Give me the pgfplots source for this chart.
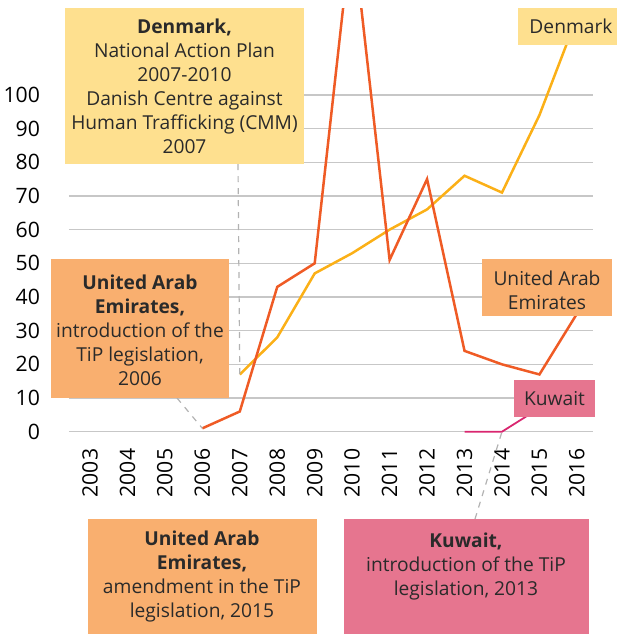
\documentclass[border=0pt]{standalone}
\usepackage{fontspec}
\setmainfont{Open Sans}
\usepackage{pgfplots}
\pgfplotsset{compat=1.18}

\definecolor{uaeline}{HTML}{EF5B25}
\definecolor{dkline}{HTML}{FBB017}
\definecolor{kwline}{HTML}{D9266F}
\definecolor{dkbox}{HTML}{FEE08F}
\definecolor{uaebox}{HTML}{F9AF6F}
\definecolor{kwbox}{HTML}{E6758F}
\definecolor{txt}{HTML}{2A2A2A}

\newcommand\bfont{\fontsize{9.6}{12}\selectfont}

\begin{document}
\begin{tikzpicture}
\path[use as bounding box] (0,0) rectangle (308.5pt,-317pt);
\begin{axis}[
  at={(34.5pt,-220.9pt)}, anchor=south west,
  scale only axis, width=262pt, height=216.9pt,
  xmin=2002.44, xmax=2016.43, ymin=-3, ymax=125.8,
  axis line style={draw=none}, major tick style={draw=none},
  ymajorgrids, grid style={draw=black!22, line width=0.75pt},
  xtick={2003,...,2016}, ytick={0,10,...,100},
  /pgf/number format/assume math mode=true,
  /pgf/number format/1000 sep={},
  xticklabel style={rotate=90, anchor=east, font=\fontsize{10.6}{12}\selectfont},
  yticklabel style={xshift=-11pt, font=\fontsize{10.6}{12}\selectfont},
]
% Denmark
\addplot[dkline, line width=1.25pt] coordinates {
  (2007,17) (2008,28) (2009,47) (2010,53) (2011,60) (2012,66)
  (2013,76) (2014,71) (2015,94) (2016,123)};
% United Arab Emirates
\addplot[uaeline, line width=1.25pt] coordinates {
  (2006,1) (2007,6) (2008,43) (2009,50) (2010,150) (2011,51)
  (2012,75) (2013,24) (2014,20) (2015,17) (2016,35)};
% Kuwait
\addplot[kwline, line width=0.9pt] coordinates {(2013,0) (2014,0) (2015,7)};

\coordinate (dk07) at (axis cs:2007,17);
\coordinate (ua06) at (axis cs:2006,1);
\coordinate (kw14) at (axis cs:2014,0);
\end{axis}

\begin{scope}[x=0.5pt, y=-0.5pt, lead/.style={draw=black!30, line width=0.6pt, dash pattern=on 3pt off 3pt}]
  \draw[lead] (238,164) -- (dk07);
  \draw[lead] (177,398) -- (ua06);
  \draw[lead] (475,519) -- (kw14);

  \fill[dkbox] (65,8) rectangle (304,164);
  \node[align=center, text=txt, font=\bfont] at (184.5,86)
    {\textbf{Denmark,}\\National Action Plan\\2007-2010\\Danish Centre against\\Human Trafficking (CMM)\\2007};

  \fill[dkbox] (518,8) rectangle (617,45);
  \node[text=txt, font=\bfont] at (571,26) {Denmark};

  \fill[uaebox] (51,259) rectangle (229,397.7);
  \node[align=center, text=txt, font=\bfont] at (140,330)
    {\textbf{United Arab}\\\textbf{Emirates,}\\introduction of the\\TiP legislation,\\2006};

  \fill[uaebox] (482.3,259.3) rectangle (611.7,315.7);
  \node[align=center, text=txt, font=\bfont] at (547,290) {United Arab\\Emirates};

  \fill[kwbox] (514,380) rectangle (595,417);
  \node[text=txt, font=\bfont] at (554.5,398.5) {Kuwait};

  \fill[uaebox] (87.7,519) rectangle (317,634);
  \node[align=center, text=txt, font=\bfont] at (202,576.7)
    {\textbf{United Arab}\\\textbf{Emirates,}\\amendment in the TiP\\legislation, 2015};

  \fill[kwbox] (344,519) rectangle (589,634);
  \node[align=center, text=txt, font=\bfont] at (466,567)
    {\textbf{Kuwait,}\\introduction of the TiP\\legislation, 2013};
\end{scope}
\end{tikzpicture}
\end{document}
